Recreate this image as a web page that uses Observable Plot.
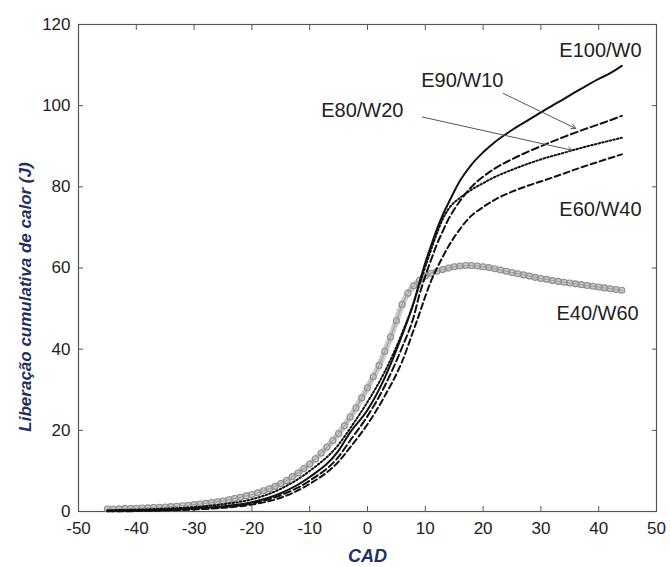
<!DOCTYPE html>
<html><head><meta charset="utf-8">
<script src="https://cdn.jsdelivr.net/npm/d3@7"></script>
<script src="https://cdn.jsdelivr.net/npm/@observablehq/plot@0.6"></script>
<style>body{margin:0;background:#fff;} #chart{width:670px;height:567px;}</style>
</head><body><div id="chart"></div>
<script>
// Crank angle (CAD) sampling used for the four line series
const cad = [-45,-40,-35,-30,-25,-20,-15,-10,-5,-3,0,3,6,8,9,10,11,12,13,14,16,18,20,22,25,28,31,34,37,40,42,44];
const e100w0  = [0.2,0.3,0.5,0.8,1.3,2.3,4.5,8.5,15,19.5,25,33,43.5,51.5,56.5,61.3,65.5,69.5,73,76,81.5,85.5,88.5,91,94,96.6,99.2,101.7,104.2,106.6,108,109.8];
const e90w10  = [0.1,0.2,0.35,0.6,1.1,2.0,4.0,7.6,13.5,17.5,23.5,31,40.5,48,53.5,58,62,65.8,69,72,76.5,80,82.5,84.5,86.8,88.8,90.6,92.3,93.9,95.4,96.4,97.5];
const e80w20  = [0.3,0.45,0.7,1.1,1.8,3.0,5.6,10,16.5,20.5,27,34.5,44,51.5,56,60.3,64.5,68.5,72,74.5,77.3,79.3,80.9,82.4,84.2,85.8,87.2,88.4,89.6,90.7,91.4,92.1];
const e60w40  = [0.05,0.1,0.25,0.5,0.9,1.7,3.4,6.8,12.3,15.8,21.5,28.5,37,44.8,48.8,53,56.8,59.9,62.7,65.3,69.6,72.9,75,76.8,78.8,80.4,81.8,83.3,84.8,86.2,87.1,88];
// E40/W60 is drawn with markers, read at every degree
const cad40 = [-45,-44,-43,-42,-41,-40,-39,-38,-37,-36,-35,-34,-33,-32,-31,-30,-29,-28,-27,-26,-25,-24,-23,-22,-21,-20,-19,-18,-17,-16,-15,-14,-13,-12,-11,-10,-9,-8,-7,-6,-5,-4,-3,-2,-1,0,1,2,3,4,5,6,7,8,9,10,11,12,13,14,15,16,17,18,19,20,21,22,23,24,25,26,27,28,29,30,31,32,33,34,35,36,37,38,39,40,41,42,43,44];
const e40w60 = [0.6,0.6,0.65,0.7,0.75,0.8,0.85,0.9,1.0,1.05,1.1,1.2,1.3,1.4,1.55,1.7,1.85,2.0,2.2,2.4,2.6,2.9,3.2,3.5,3.85,4.2,4.6,5.1,5.6,6.2,6.9,7.6,8.6,9.5,10.6,11.7,13,14.4,15.9,17.5,19.2,21.1,23.3,25.5,28,30.5,33.2,36,39.5,43,47,51,53.8,55.6,57,58,58.7,59.2,59.6,60,60.3,60.5,60.6,60.6,60.5,60.3,60.1,59.8,59.5,59.2,58.9,58.6,58.3,58,57.7,57.4,57.2,56.9,56.7,56.5,56.3,56.1,55.9,55.7,55.5,55.3,55.1,54.9,54.7,54.5];

const xTicks = [-50,-40,-30,-20,-10,0,10,20,30,40,50];
const yTicks = [0,20,40,60,80,100,120];

// Series labels and annotation arrows (data coordinates)
const labelNames = ["E100/W0","E90/W10","E80/W20","E60/W40","E40/W60"];
const labelX = [40.3,16.4,-0.9,40.3,39.8];
const labelY = [113.6,106.2,98.8,74.4,48.8];
const arrowFromX = [23.5,9.5];
const arrowFromY = [103,97.2];
const arrowToX = [36,35.4];
const arrowToY = [94.4,89];

const yTitle = "Liberação cumulativa de calor (J)";
const xTitle = "CAD";

const rows = (ys) => cad.map((c, i) => ({cad: c, v: ys[i]}));
const rows40 = cad40.map((c, i) => ({cad: c, v: e40w60[i]}));
const labels = labelNames.map((t, i) => ({t, x: labelX[i], y: labelY[i]}));
const arrows = arrowFromX.map((x1, i) => ({x1, y1: arrowFromY[i], x2: arrowToX[i], y2: arrowToY[i]}));
const fmt = d => `${d}`;

const chart = Plot.plot({
  width: 670,
  height: 567,
  marginLeft: 78,
  marginRight: 14,
  marginTop: 24,
  marginBottom: 56,
  style: {fontFamily: "Arial, 'Liberation Sans', sans-serif", fontSize: "17px", background: "#fff", color: "#222"},
  x: {domain: [-50, 50]},
  y: {domain: [0, 120]},
  marks: [
    Plot.axisX({anchor: "bottom", ticks: xTicks, tickSize: -5, tickPadding: 15, tickFormat: fmt, label: null, stroke: "#555"}),
    Plot.axisX({anchor: "top", ticks: xTicks, tickSize: -5, tickFormat: () => "", label: null, stroke: "#555"}),
    Plot.axisY({anchor: "left", ticks: yTicks, tickSize: -5, tickPadding: 13, tickFormat: fmt, label: null, stroke: "#555"}),
    Plot.axisY({anchor: "right", ticks: yTicks, tickSize: -5, tickFormat: () => "", label: null, stroke: "#555"}),
    Plot.frame({stroke: "#555", strokeWidth: 1.2}),
    Plot.line(rows40, {x: "cad", y: "v", curve: "monotone-x", stroke: "#c9c9c9", strokeWidth: 6}),
    Plot.dot(rows40, {x: "cad", y: "v", r: 3, stroke: "#8d8d8d", strokeWidth: 1.1, fill: "none"}),
    Plot.line(rows40, {x: "cad", y: "v", curve: "monotone-x", stroke: "#999", strokeWidth: 1}),
    Plot.line(rows(e60w40), {x: "cad", y: "v", curve: "monotone-x", stroke: "#111", strokeWidth: 2, strokeDasharray: "6,3.5"}),
    Plot.line(rows(e80w20), {x: "cad", y: "v", curve: "monotone-x", stroke: "#111", strokeWidth: 2, strokeDasharray: "1.6,2.2"}),
    Plot.line(rows(e90w10), {x: "cad", y: "v", curve: "monotone-x", stroke: "#111", strokeWidth: 2, strokeDasharray: "7,3.5"}),
    Plot.line(rows(e100w0), {x: "cad", y: "v", curve: "monotone-x", stroke: "#111", strokeWidth: 2}),
    Plot.arrow(arrows, {x1: "x1", y1: "y1", x2: "x2", y2: "y2", stroke: "#555", strokeWidth: 1, headLength: 7}),
    Plot.text(labels, {x: "x", y: "y", text: "t", fontSize: 20, fill: "#222"}),
    Plot.text([yTitle], {text: d => d, frameAnchor: "left", textAnchor: "middle", lineAnchor: "middle", rotate: -90, dx: -53, dy: 29, fontSize: 17, fontStyle: "italic", fontWeight: "bold", fill: "#1f3060"}),
    Plot.text([xTitle], {text: d => d, frameAnchor: "bottom", textAnchor: "middle", lineAnchor: "middle", dy: 45, fontSize: 18, fontStyle: "italic", fontWeight: "bold", fill: "#1f3060"})
  ]
});
document.getElementById("chart").appendChild(chart);
</script>
</body></html>
